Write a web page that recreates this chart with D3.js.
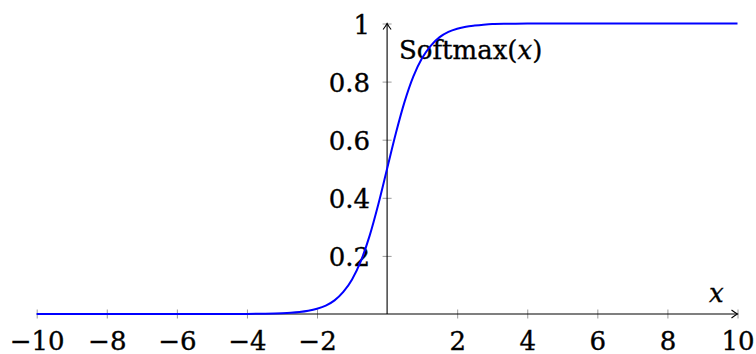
<!DOCTYPE html>
<html>
<head>
<meta charset="utf-8">
<script src="https://cdn.jsdelivr.net/npm/d3@7"></script>
<style>
  html, body { margin: 0; padding: 0; background: #fff; }
  svg { display: block; }
  text { font-family: "DejaVu Serif", serif; font-size: 26px; fill: #000; stroke: #000; stroke-width: 0.35px; }
</style>
</head>
<body>
<svg id="chart" width="756" height="354"></svg>
<script>
// Sampled points of the curve
const xValues = [-10, -9, -8, -7, -6, -5, -4, -3.5, -3, -2.75, -2.5, -2.25, -2, -1.75, -1.5, -1.25, -1,
  -0.75, -0.5, -0.25, 0, 0.25, 0.5, 0.75, 1, 1.25, 1.5, 1.75, 2, 2.25, 2.5, 2.75, 3, 3.5, 4, 5, 6, 7, 8, 9, 10];
const yValues = [0, 0, 0, 0, 0, 0, 0.0003, 0.0009, 0.0025, 0.0041, 0.0067, 0.011, 0.018, 0.029, 0.047, 0.076, 0.119,
  0.182, 0.269, 0.378, 0.5, 0.622, 0.731, 0.818, 0.881, 0.924, 0.953, 0.971, 0.982, 0.989, 0.993, 0.996, 0.998, 0.999, 1, 1, 1, 1, 1, 1, 1];

const xTicks = [-10, -8, -6, -4, -2, 2, 4, 6, 8, 10];
const yTicks = [0.2, 0.4, 0.6, 0.8, 1];
const yTickLabels = ["0.2", "0.4", "0.6", "0.8", "1"];
const yTitle = "Softmax";
const xTitle = "x";

const svg = d3.select("#chart");
const x = d3.scaleLinear().domain([-10, 10]).range([36.7, 737.5]);
const y = d3.scaleLinear().domain([0, 1]).range([314, 23.5]);

const fmtX = d => d < 0 ? "\u2212" + Math.abs(d) : String(d);

// x axis ticks and labels
const gx = svg.append("g")
  .attr("transform", `translate(0,${y(0)})`)
  .call(d3.axisBottom(x).tickValues(xTicks).tickFormat(fmtX).tickSize(0));
gx.select(".domain").remove();
gx.selectAll(".tick line").attr("y1", -4.5).attr("y2", 4.5).attr("stroke", "#9a9a9a").attr("stroke-width", 1);
gx.selectAll(".tick text").attr("y", 36).attr("dy", 0)
  .style("font-family", "DejaVu Serif, serif").style("font-size", "26px").attr("fill", "#000");

// y axis ticks and labels
const gy = svg.append("g")
  .attr("transform", `translate(${x(0)},0)`)
  .call(d3.axisLeft(y).tickValues(yTicks).tickFormat((d, i) => yTickLabels[i]).tickSize(0));
gy.select(".domain").remove();
gy.selectAll(".tick line").attr("x1", -4.5).attr("x2", 4.5).attr("stroke", "#9a9a9a").attr("stroke-width", 1);
gy.selectAll(".tick text").attr("x", -17).attr("dy", 0).attr("y", 9.5)
  .attr("text-anchor", "end")
  .style("font-family", "DejaVu Serif, serif").style("font-size", "26px").attr("fill", "#000");

// axis lines with arrow heads
const axes = svg.append("g").attr("stroke", "#000").attr("fill", "none").attr("stroke-width", 1.1);
axes.append("line").attr("x1", x(-10)).attr("x2", x(10)).attr("y1", y(0)).attr("y2", y(0));
axes.append("path").attr("d",
  `M${x(10) - 6},${y(0) - 4} Q${x(10) - 2},${y(0) - 1} ${x(10)},${y(0)} Q${x(10) - 2},${y(0) + 1} ${x(10) - 6},${y(0) + 4}`);
axes.append("line").attr("x1", x(0)).attr("x2", x(0)).attr("y1", y(0)).attr("y2", y(1));
axes.append("path").attr("d",
  `M${x(0) - 4},${y(1) + 6} Q${x(0) - 1},${y(1) + 2} ${x(0)},${y(1)} Q${x(0) + 1},${y(1) + 2} ${x(0) + 4},${y(1) + 6}`);

// axis titles
const yt = svg.append("text").attr("x", 399).attr("y", 59);
yt.append("tspan").text(yTitle + "(");
yt.append("tspan").attr("font-style", "italic").text(xTitle);
yt.append("tspan").text(")");
svg.append("text").attr("x", 709).attr("y", 302).attr("font-style", "italic").text(xTitle);

// the curve
const pts = xValues.map((v, i) => [v, yValues[i]]);
svg.append("path")
  .datum(pts)
  .attr("fill", "none")
  .attr("stroke", "#0000ff")
  .attr("stroke-width", 2)
  .attr("d", d3.line().x(d => x(d[0])).y(d => y(d[1])).curve(d3.curveMonotoneX));
</script>
</body>
</html>
